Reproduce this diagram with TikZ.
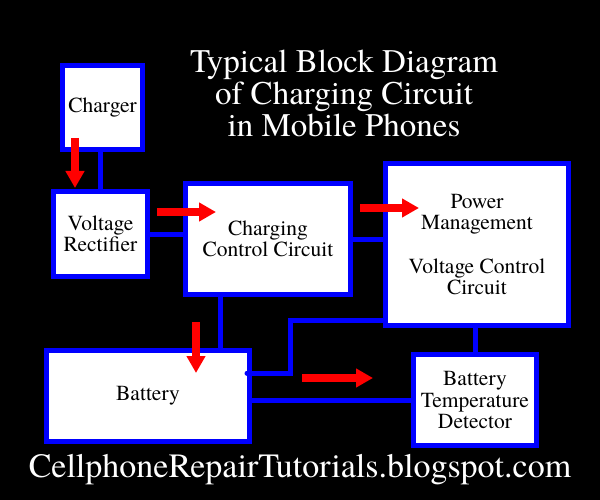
\documentclass[tikz,border=0pt]{standalone}
\usepackage{fontspec}
\setmainfont{texgyretermes}[Extension=.otf, UprightFont=*-regular, BoldFont=*-bold,
  ItalicFont=*-italic, BoldItalicFont=*-bolditalic]
\usetikzlibrary{arrows.meta}
\definecolor{boxblue}{HTML}{0000FF}
\definecolor{flowred}{HTML}{FF0000}
\tikzset{
  block/.style={draw=boxblue, fill=white, line width=5pt, align=center, inner sep=0pt,
    font=\rmfamily\fontsize{21.5}{21.5}\selectfont},
  wire/.style={draw=boxblue, line width=5pt},
  flow/.style={draw=flowred, line width=8pt, -{Triangle[length=17pt, width=18pt]}},
}

\begin{document}
\begin{tikzpicture}[x=1pt, y=-1pt]

  % ============ Background ============
  \fill[black] (0,0) rectangle (600,500);
  \useasboundingbox (0,0) rectangle (600,500);

  % ============ Title and footer ============
  \node[text=white, align=center, font=\rmfamily\fontsize{33}{32}\selectfont] (title) at (344,93)
    {Typical Block Diagram\\of Charging Circuit\\in Mobile Phones};
  \node[text=white, anchor=base, font=\rmfamily\fontsize{34}{34}\selectfont] (site) at (300,477)
    {CellphoneRepairTutorials.blogspot.com};

  % ============ Blocks ============
  \node[block, minimum width=80, minimum height=84] (charger) at (102.5,107.5) {Charger};
  \node[block, minimum width=94, minimum height=85] (rectifier) at (100.5,234) {Voltage\\Rectifier};
  \node[block, minimum width=165, minimum height=111] (control) at (268,239) {Charging\\Control Circuit};
  \node[block, minimum width=183, minimum height=162] (power) at (477,244.5)
    {Power\\Management\\[22pt]Voltage Control\\Circuit};
  \node[block, minimum width=203, minimum height=91] (battery) at (148,396) {Battery};
  \node[block, minimum width=123, minimum height=91] (detector) at (475,400)
    {Battery\\Temperature\\Detector};

  % ============ Wires ============
  \draw[wire] (rectifier.north) -- (rectifier.north |- charger.south);
  \draw[wire] (rectifier.east) -- (rectifier.east -| control.west);
  \draw[wire] (control.east) -- (control.east -| power.west);
  \draw[wire] (control.south -| 220,0) -- (battery.north -| 220,0);
  \coordinate (batt tap) at ([xshift=-5pt]battery.east);
  \draw[wire, line cap=round] (batt tap |- 0,373) -- (290,373) -- (290,320) -- (power.west |- 0,320);
  \draw[wire] (detector.west) -- (detector.west -| battery.east);
  \draw[wire] (detector.north) -- (detector.north |- power.south);

  % ============ Flow arrows ============
  \draw[flow] (75,138) -- (75,188);
  \draw[flow] (157,212) -- (216,212);
  \draw[flow] (360,208) -- (419,208);
  \draw[flow] (196,322) -- (196,373);
  \draw[flow] (302,378) -- (373,378);

\end{tikzpicture}
\end{document}
